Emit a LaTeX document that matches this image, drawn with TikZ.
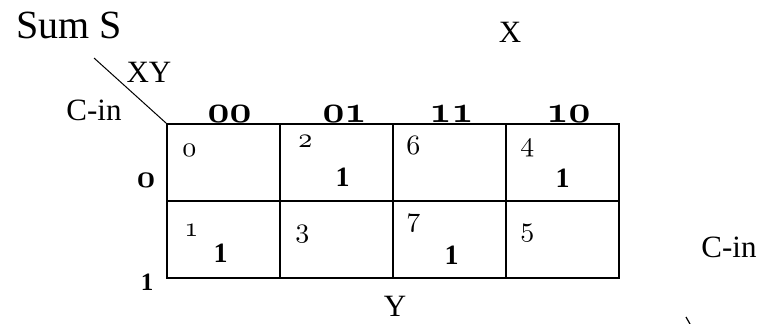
\documentclass[tikz,border=0pt]{standalone}
\usepackage{fontspec}
\setmainfont{Liberation Serif}
% old-style figures from the math italic font, at any size
\DeclareFontFamily{OML}{osf}{\skewchar\font=127}
\DeclareFontShape{OML}{osf}{m}{it}{<-> cmmi10}{}
\DeclareFontShape{OML}{osf}{b}{it}{<-> cmmib10}{}
\newcommand{\osm}[1]{{\usefont{OML}{osf}{m}{it}#1}}
\newcommand{\osb}[1]{{\usefont{OML}{osf}{b}{it}#1}}
\begin{document}
\begin{tikzpicture}[
    x=1pt, y=-1pt,
    cell/.style={draw, line width=1.5pt, minimum width=113pt, minimum height=77pt, inner sep=0pt},
    lbl/.style={font=\fontsize{31}{34}\selectfont, inner sep=0pt},
    head/.style={font=\fontsize{38}{42}\selectfont, inner sep=0pt, anchor=base},
    idx/.style={font=\fontsize{28}{32}\selectfont, inner sep=0pt, anchor=base west},
    one/.style={font=\fontsize{28}{30}\selectfont\bfseries, inner sep=0pt},
  ]
  \useasboundingbox (0,0) rectangle (772,324);
  % the map: row C-in = 0 on top, columns XY = 00 01 11 10
  \node[cell] (m0) at (223.5,162.5) {};
  \node[cell] (m2) at (336.5,162.5) {};
  \node[cell] (m6) at (449.5,162.5) {};
  \node[cell] (m4) at (562.5,162.5) {};
  \node[cell] (m1) at (223.5,239.5) {};
  \node[cell] (m3) at (336.5,239.5) {};
  \node[cell] (m7) at (449.5,239.5) {};
  \node[cell] (m5) at (562.5,239.5) {};
  % cell numbers
  \node[idx] (i0) at ([shift={(16,33)}]m0.north west) {\osm{0}};
  \node[idx] (i2) at ([shift={(19,24)}]m2.north west) {\osm{2}};
  \node[idx] (i6) at ([shift={(14,31)}]m6.north west) {\osm{6}};
  \node[idx] (i4) at ([shift={(15,28)}]m4.north west) {\osm{4}};
  \node[idx] (i1) at ([shift={(18,36)}]m1.north west) {\osm{1}};
  \node[idx] (i3) at ([shift={(16,37)}]m3.north west) {\osm{3}};
  \node[idx] (i7) at ([shift={(14,26)}]m7.north west) {\osm{7}};
  \node[idx] (i5) at ([shift={(15,36)}]m5.north west) {\osm{5}};
  % ones of the sum
  \node[one] (s2) at ([shift={(6,15)}]m2.center) {1};
  \node[one] (s4) at ([shift={(0,16)}]m4.center) {1};
  \node[one] (s1) at ([shift={(-3,14)}]m1.center) {1};
  \node[one] (s7) at ([shift={(2,16)}]m7.center) {1};
  % column and row heads
  \node[head] (h00) at ([shift={(6,-1)}]m0.north) {\osb{00}};
  \node[head] (h01) at ([shift={(8,-1)}]m2.north) {\osb{01}};
  \node[head] (h11) at ([shift={(2,-1)}]m6.north) {\osb{11}};
  \node[head] (h10) at ([shift={(6,-1)}]m4.north) {\osb{10}};
  \node[head, font=\fontsize{32}{36}\selectfont] (r0) at (146,187) {\osb{0}};
  \node[head, font=\fontsize{25}{30}\selectfont\bfseries] (r1) at (147,290) {1};
  % names
  \node[lbl, font=\fontsize{40}{44}\selectfont, anchor=base west] (title) at (16,38) {Sum S};
  \node[lbl, anchor=base] (x) at (510,42) {X};
  \node[lbl, anchor=base] (y) at (395,316) {Y};
  \node[lbl, anchor=base] (xy) at (149,82) {XY};
  \node[lbl, anchor=base] (cinl) at (94,120) {C-in};
  \node[lbl, anchor=base] (cinr) at (729,257) {C-in};
  \coordinate (corner) at (94,58);
  \draw[line width=1pt] (corner) -- (m0.north west);
  \coordinate (tk1) at (686,317);
  \coordinate (tk2) at (690,324);
  \draw[line width=1.2pt] (tk1) -- (tk2);
\end{tikzpicture}
\end{document}
